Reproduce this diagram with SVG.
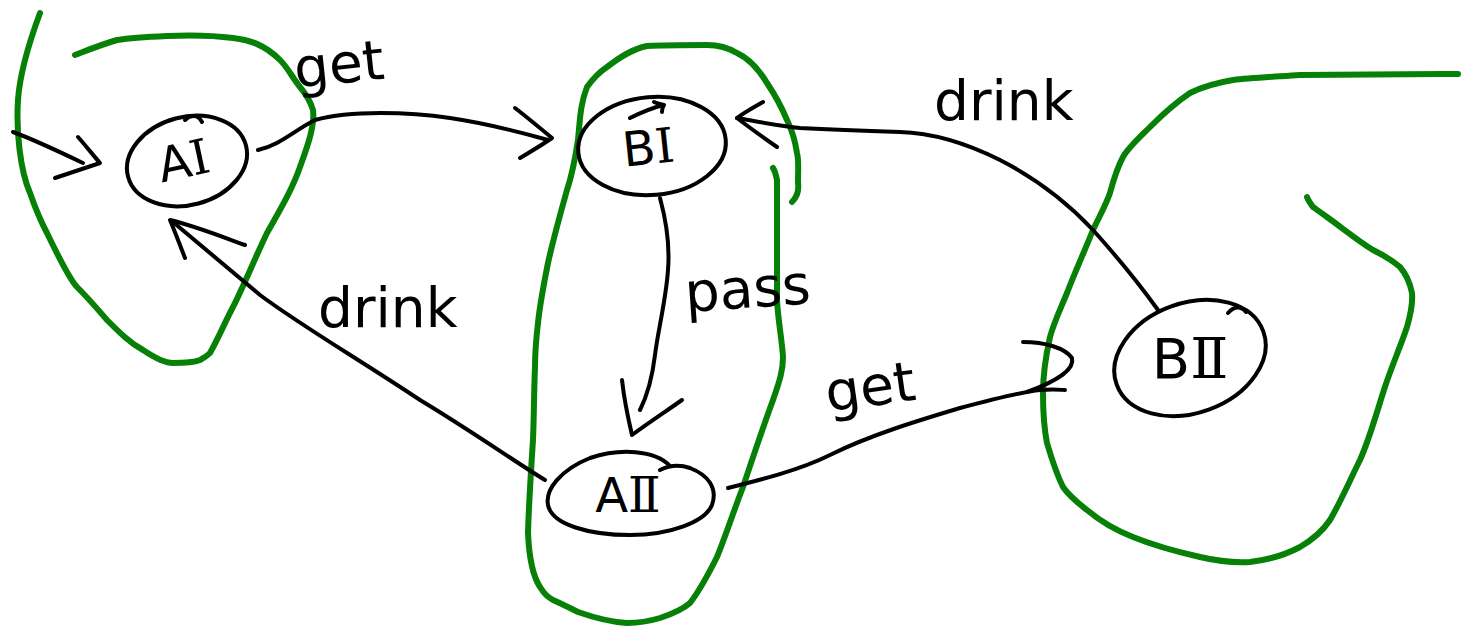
<svg xmlns="http://www.w3.org/2000/svg" width="1465" height="626" viewBox="0 0 1465 626">
  <style>
    .ink { fill: none; stroke: #000; stroke-width: 4; stroke-linecap: round; stroke-linejoin: round; }
    .hull { fill: none; stroke: #078007; stroke-width: 6; stroke-linecap: round; stroke-linejoin: round; }
    .name { font-family: "DejaVu Sans", "Liberation Sans", sans-serif; font-size: 48px; fill: #000; text-anchor: middle; }
    .num { font-family: "DejaVu Serif", "Liberation Serif", serif; }
    .lbl { font-family: "DejaVu Sans", "Liberation Sans", sans-serif; font-size: 55px; fill: #000; }
  </style>
  <rect width="1465" height="626" fill="#fff"/>

  <!-- green groupings -->
  <g id="groups">
    <path class="hull" d="M40,13 C30,40 20,70 18,100 C16,130 20,170 30,193 C36,210 40,220 47,233 C60,260 70,280 77,287 C90,300 100,312 107,320 C120,333 130,343 143,350 C155,358 165,363 173,363 C185,363 195,362 200,360 C206,357 208,355 210,353 C220,335 225,322 233,307 C245,283 255,258 267,233 C280,210 292,190 300,167 C308,145 315,125 313,110 C310,100 305,93 300,87 C292,77 288,68 280,60 C265,45 250,40 233,38 C210,35 190,35 167,36 C145,37 130,38 117,40 C100,45 88,50 75,55"/>
    <path class="hull" d="M792,202 C797,197 799,190 798,183 C798,170 799,160 797,153 C795,140 792,130 787,120 C782,108 775,95 767,83 C758,68 748,58 737,53 C727,47 717,45 707,45 C690,45 665,45 647,46 C632,49 620,57 607,67 C598,73 592,80 587,87 C580,105 580,120 578,140 C575,160 572,175 567,190 C560,215 553,240 548,263 C544,283 540,303 538,323 C536,340 535,355 535,367 C534,390 534,415 533,440 C531,470 529,500 528,533 C529,555 532,575 540,587 C545,595 548,597 553,600 C562,604 570,608 578,612 C595,618 610,622 627,623 C640,623 650,621 660,618 C672,614 682,610 690,603 C700,590 708,575 717,557 C726,535 734,510 743,487 C752,460 762,430 773,400 C780,380 783,370 783,357 C782,340 778,320 777,300 C777,270 777,230 777,180 C776,175 775,171 773,168"/>
    <path class="hull" d="M1458,74 C1400,74 1340,75 1300,75 C1270,77 1250,78 1233,80 C1215,83 1200,88 1190,93 C1175,103 1162,115 1150,127 C1138,139 1128,148 1123,157 C1116,170 1113,182 1110,193 C1105,207 1099,217 1093,230 C1085,250 1075,272 1067,293 C1060,310 1054,322 1050,337 C1046,355 1043,375 1043,393 C1043,410 1044,428 1047,443 C1052,460 1057,475 1063,487 C1070,497 1078,503 1087,510 C1100,521 1115,530 1133,537 C1155,546 1178,552 1200,557 C1217,561 1233,563 1250,562 C1268,560 1285,555 1300,547 C1312,540 1322,532 1330,520 C1340,503 1350,480 1360,460 C1369,440 1376,415 1383,393 C1390,370 1400,348 1407,327 C1411,313 1413,303 1412,293 C1410,283 1406,274 1400,267 C1392,260 1383,255 1373,250 C1357,240 1341,227 1327,217 C1320,212 1316,209 1313,207 C1310,203 1308,200 1307,197"/>
  </g>

  <!-- connectors -->
  <g id="connectors">
    <!-- entry into AI -->
    <path class="ink" d="M13,132 C35,140 60,152 83,163"/>
    <path class="ink" d="M78,137 C86,146 93,155 100,163 C85,168 70,173 55,178"/>
    <!-- get: AI to BI -->
    <path class="ink" d="M258,150 C280,145 295,130 315,120 C350,110 410,112 450,118 C490,124 520,132 548,140"/>
    <path class="ink" d="M515,108 C528,118 540,128 552,138 C542,145 530,152 520,158"/>
    <!-- pass: BI to AII -->
    <path class="ink" d="M660,198 C666,220 670,245 668,270 C666,300 658,330 655,355 C652,380 645,400 640,410"/>
    <path class="ink" d="M622,380 C624,398 628,418 632,435 C648,423 665,412 682,400"/>
    <!-- drink: AII to AI -->
    <path class="ink" d="M545,480 C520,465 470,430 420,400 C360,360 300,325 260,295 C230,270 200,245 173,222"/>
    <path class="ink" d="M185,258 C180,245 175,232 170,220 C195,226 220,236 245,245"/>
    <!-- get: AII to BII -->
    <path class="ink" d="M728,488 C760,480 800,470 830,455 C870,435 920,420 960,408 C990,400 1020,392 1040,390 C1055,389 1062,390 1065,390"/>
    <path class="ink" d="M1023,342 C1045,342 1065,348 1072,358 C1075,370 1055,382 1027,392"/>
    <!-- drink: BII to BI -->
    <path class="ink" d="M1158,310 C1140,285 1120,260 1093,230 C1065,200 1035,178 1000,160 C970,145 935,133 900,132 C870,131 840,130 800,128 C780,126 760,122 737,118"/>
    <path class="ink" d="M763,102 C754,107 745,112 737,118 C750,128 764,138 777,147"/>
  </g>

  <!-- edge labels -->
  <g id="labels">
    <text class="lbl" x="296" y="88" transform="rotate(-6 296 88)">get</text>
    <text class="lbl" x="934" y="120">drink</text>
    <text class="lbl" x="318" y="327">drink</text>
    <text class="lbl" x="686" y="312" transform="rotate(-4 686 312)">pass</text>
    <text class="lbl" x="828" y="412" transform="rotate(-8 828 412)">get</text>
  </g>

  <!-- states -->
  <g id="node-AI">
    <ellipse class="ink" cx="187" cy="161" rx="61" ry="44" transform="rotate(-15 187 161)"/>
    <path class="ink" d="M185,120 C190,115 198,114 202,122"/>
    <text class="name" x="187" y="177" transform="rotate(-12 187 177)">A<tspan class="num">Ⅰ</tspan></text>
  </g>
  <g id="node-BI">
    <ellipse class="ink" cx="652" cy="146" rx="74" ry="49" transform="rotate(-5 652 146)"/>
    <path class="ink" d="M630,118 C642,112 652,108 663,105 M654,102 C658,104 661,104 664,105 C662,108 662,110 662,112"/>
    <text class="name" x="650" y="164" transform="rotate(-6 650 164)">B<tspan class="num">Ⅰ</tspan></text>
  </g>
  <g id="node-AII">
    <path class="ink" d="M670,466 C655,450 620,448 590,458 C560,470 545,490 548,505 C552,525 590,535 630,535 C670,535 705,522 712,505 C718,488 708,475 690,468 C678,464 668,466 660,470"/>
    <text class="name" x="628" y="512">A<tspan class="num">Ⅱ</tspan></text>
  </g>
  <g id="node-BII">
    <ellipse class="ink" cx="1190" cy="358" rx="78" ry="55" transform="rotate(-20 1190 358)"/>
    <path class="ink" d="M1228,313 C1235,305 1242,307 1246,312"/>
    <text class="name" x="1190" y="378" style="font-size:56px">B<tspan class="num">Ⅱ</tspan></text>
  </g>
</svg>
